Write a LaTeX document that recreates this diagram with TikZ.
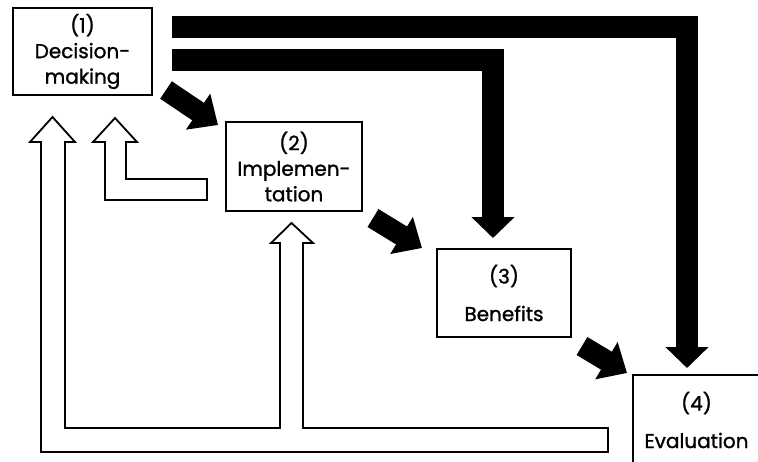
\documentclass[tikz,border=0pt]{standalone}
\usepackage{fontspec}
\setmainfont{Poppins}
\newfontfamily\lblfont{Poppins}[FakeBold=1.2]
\usetikzlibrary{arrows.meta}
\begin{document}
\begin{tikzpicture}[x=1pt,y=-1pt,
  box/.style={draw, line width=1.4pt, align=center, inner sep=0pt},
  lbl/.style={font=\lblfont\fontsize{20}{25.5}\selectfont},
  lblwide/.style={font=\lblfont\fontsize{20}{37.5}\selectfont},
  fatbar/.style={line width=22pt, line join=miter, -{Triangle[length=21pt,width=42pt]}},
  fatarrow/.style={line width=21pt, -{Triangle[length=24pt,width=42pt]}},
  hollow/.style={draw, line width=1.8pt, fill=white, line join=miter}]
\useasboundingbox (0,0) rectangle (758,461);

% boxes
\node[box, lbl, minimum width=139pt, minimum height=87pt] (b1) at (82.5,51.5) {(1)\\Decision-\\making};
\node[box, lbl, minimum width=136pt, minimum height=89pt] (b2) at (294,166.5) {(2)\\Implemen-\\tation};
\node[box, lblwide, minimum width=134pt, minimum height=88pt] (b3) at (504,293) {(3)\\Benefits};
\node[box, lblwide, minimum width=127pt, minimum height=90pt] (b4) at (696.5,420) {(4)\\Evaluation};

% black bars from decision-making
\coordinate (s1) at (172,27);
\coordinate (e1) at (687,368);
\coordinate (s2) at (172,60);
\coordinate (e2) at (493,238);
\draw[fatbar] (s1) -| (e1);
\draw[fatbar] (s2) -| (e2);

% diagonal black arrows
\coordinate (d1a) at (166,90);  \coordinate (d1b) at (218,125);
\coordinate (d2a) at (373,218); \coordinate (d2b) at (422,248);
\coordinate (d3a) at (582,346); \coordinate (d3b) at (627,373);
\draw[fatarrow] (d1a) -- (d1b);
\draw[fatarrow] (d2a) -- (d2b);
\draw[fatarrow] (d3a) -- (d3b);

% hollow feedback arrow from evaluation
\path[hollow] (52.5,117) -- (75,142) -- (65,142) -- (65,428) -- (280,428) -- (280,243)
  -- (271,243) -- (291.5,223) -- (313,243) -- (303,243) -- (303,428) -- (608,428)
  -- (608,452) -- (41,452) -- (41,142) -- (30,142) -- cycle;

% hollow feedback arrow from implementation
\path[hollow] (115,118) -- (137,142) -- (126,142) -- (126,179) -- (207,179) -- (207,200)
  -- (105,200) -- (105,142) -- (93,142) -- cycle;
\end{tikzpicture}
\end{document}
